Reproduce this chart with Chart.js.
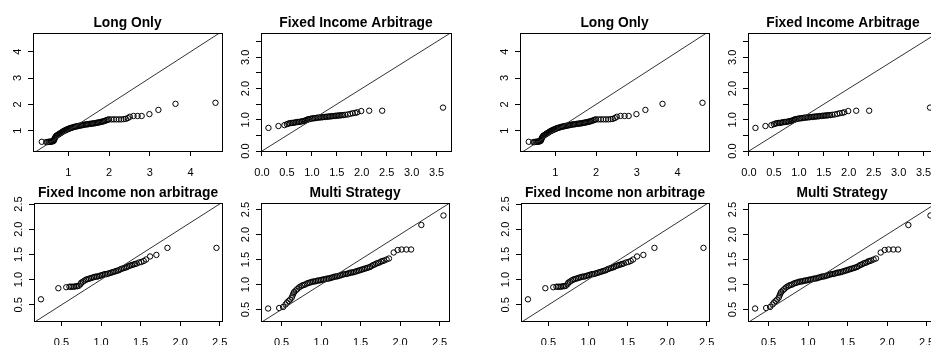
<!DOCTYPE html>
<html><head><meta charset="utf-8">
<script src="https://cdn.jsdelivr.net/npm/chart.js@4.4.1/dist/chart.umd.min.js"></script>
<style>
html,body{margin:0;padding:0;background:#fff;}
#wrap{position:relative;width:931px;height:345px;overflow:hidden;background:#fff;}
#wrap canvas{position:absolute;}
</style></head><body><div id="wrap"></div>
<script>
// ---------- data ----------
const panelTitles = ['Long Only', 'Fixed Income Arbitrage', 'Fixed Income non arbitrage', 'Multi Strategy'];

const longOnlyPts = [[0.35,0.58],[0.46,0.57],[0.49,0.57],[0.52,0.58],[0.54,0.58],[0.56,0.58],[0.58,0.59],[0.60,0.59],[0.62,0.60],[0.64,0.61],[0.65,0.64],[0.66,0.68],[0.67,0.72],[0.68,0.75],[0.70,0.79],[0.71,0.81],[0.73,0.83],[0.75,0.85],[0.77,0.87],[0.79,0.89],[0.81,0.91],[0.83,0.93],[0.85,0.95],[0.87,0.97],[0.89,0.99],[0.91,1.00],[0.93,1.02],[0.95,1.03],[0.97,1.05],[0.99,1.06],[1.01,1.07],[1.03,1.09],[1.05,1.10],[1.07,1.11],[1.10,1.12],[1.13,1.14],[1.16,1.15],[1.19,1.16],[1.22,1.17],[1.25,1.18],[1.28,1.19],[1.31,1.20],[1.34,1.21],[1.37,1.22],[1.40,1.23],[1.43,1.24],[1.46,1.24],[1.49,1.25],[1.52,1.26],[1.55,1.26],[1.58,1.27],[1.61,1.28],[1.64,1.28],[1.67,1.29],[1.70,1.30],[1.73,1.31],[1.76,1.32],[1.79,1.33],[1.82,1.34],[1.85,1.35],[1.88,1.37],[1.91,1.38],[1.94,1.40],[1.97,1.42],[2.00,1.43],[2.06,1.43],[2.12,1.43],[2.18,1.43],[2.24,1.43],[2.30,1.43],[2.36,1.44],[2.41,1.45],[2.46,1.48],[2.51,1.53],[2.60,1.56],[2.70,1.56],[2.80,1.56],[2.99,1.63],[3.21,1.79],[3.63,2.02],[4.61,2.06]];

const fixedIncomeArbPts = [[0.13,0.74],[0.33,0.80],[0.45,0.83],[0.50,0.86],[0.53,0.88],[0.56,0.89],[0.59,0.90],[0.62,0.90],[0.65,0.91],[0.68,0.92],[0.71,0.93],[0.74,0.93],[0.77,0.94],[0.80,0.95],[0.83,0.96],[0.86,0.97],[0.88,0.98],[0.90,1.00],[0.92,1.01],[0.94,1.02],[0.97,1.03],[1.00,1.04],[1.03,1.05],[1.06,1.05],[1.09,1.06],[1.12,1.07],[1.15,1.07],[1.18,1.08],[1.21,1.08],[1.24,1.09],[1.27,1.09],[1.30,1.10],[1.33,1.10],[1.36,1.11],[1.39,1.11],[1.42,1.12],[1.45,1.12],[1.48,1.13],[1.51,1.13],[1.54,1.14],[1.57,1.14],[1.60,1.15],[1.63,1.15],[1.67,1.16],[1.72,1.17],[1.77,1.19],[1.82,1.21],[1.87,1.22],[1.91,1.24],[1.99,1.28],[2.15,1.29],[2.41,1.29],[3.63,1.39]];

const fixedIncomeNonArbPts = [[0.24,0.61],[0.46,0.83],[0.56,0.85],[0.60,0.86],[0.62,0.86],[0.64,0.86],[0.66,0.86],[0.68,0.87],[0.70,0.87],[0.72,0.88],[0.74,0.91],[0.75,0.94],[0.77,0.96],[0.79,0.98],[0.81,1.00],[0.83,1.01],[0.85,1.02],[0.87,1.03],[0.89,1.04],[0.91,1.05],[0.93,1.06],[0.95,1.06],[0.97,1.07],[0.99,1.08],[1.01,1.09],[1.03,1.10],[1.05,1.11],[1.07,1.11],[1.09,1.12],[1.11,1.13],[1.13,1.14],[1.15,1.15],[1.17,1.16],[1.19,1.17],[1.21,1.18],[1.23,1.19],[1.25,1.21],[1.27,1.22],[1.29,1.23],[1.31,1.24],[1.33,1.25],[1.35,1.27],[1.37,1.28],[1.39,1.29],[1.41,1.30],[1.43,1.31],[1.45,1.32],[1.48,1.34],[1.51,1.35],[1.54,1.37],[1.57,1.40],[1.62,1.46],[1.70,1.49],[1.84,1.63],[2.46,1.63]];

const multiStrategyPts = [[0.33,0.52],[0.47,0.53],[0.52,0.55],[0.55,0.60],[0.57,0.64],[0.59,0.67],[0.61,0.70],[0.63,0.74],[0.64,0.78],[0.65,0.82],[0.66,0.85],[0.68,0.88],[0.70,0.91],[0.72,0.94],[0.74,0.96],[0.76,0.98],[0.78,0.99],[0.80,1.00],[0.82,1.02],[0.84,1.03],[0.86,1.04],[0.88,1.05],[0.90,1.06],[0.92,1.06],[0.94,1.07],[0.96,1.08],[0.98,1.08],[1.00,1.09],[1.02,1.10],[1.04,1.10],[1.06,1.11],[1.08,1.12],[1.10,1.12],[1.12,1.13],[1.14,1.14],[1.16,1.15],[1.18,1.16],[1.20,1.16],[1.22,1.17],[1.24,1.18],[1.26,1.19],[1.28,1.20],[1.30,1.21],[1.32,1.21],[1.34,1.22],[1.36,1.23],[1.38,1.24],[1.40,1.24],[1.42,1.25],[1.44,1.26],[1.46,1.27],[1.48,1.28],[1.50,1.29],[1.52,1.30],[1.54,1.31],[1.56,1.32],[1.58,1.33],[1.60,1.34],[1.62,1.35],[1.64,1.37],[1.66,1.39],[1.68,1.40],[1.70,1.42],[1.72,1.43],[1.74,1.44],[1.76,1.46],[1.78,1.47],[1.80,1.48],[1.83,1.50],[1.86,1.52],[1.92,1.64],[1.97,1.69],[2.02,1.70],[2.08,1.70],[2.14,1.70],[2.27,2.19],[2.55,2.38]];

// axis limits [xmin, xmax, ymin, ymax]
const longOnlyLimits = [0.135, 4.77, 0.23, 4.71];
const fixedIncomeArbLimits = [-0.02, 3.79, 0, 3.78];
const fixedIncomeNonArbLimits = [0.152, 2.53, 0.18, 2.52];
const multiStrategyLimits = [0.24, 2.62, 0.27, 2.63];

// tick values and labels
const longOnlyTicks = [1, 2, 3, 4];
const longOnlyTickLabels = ['1', '2', '3', '4'];
const fiaXTicks = [0, 0.5, 1, 1.5, 2, 2.5, 3, 3.5];
const fiaXTickLabels = ['0.0', '0.5', '1.0', '1.5', '2.0', '2.5', '3.0', '3.5'];
const fiaYTicks = [0, 0.5, 1, 1.5, 2, 2.5, 3, 3.5];
const fiaYTickLabels = ['0.0', '', '1.0', '', '2.0', '', '3.0', ''];
const halfTicks = [0.5, 1, 1.5, 2, 2.5];
const halfTickLabels = ['0.5', '1.0', '1.5', '2.0', '2.5'];

// ---------- layout / style ----------
const YW = 33, TH = 23, XH = 30, RP = 20;
const FONT = "'Liberation Sans', Arial, Helvetica, sans-serif";
const panelBoxes = [[33, 33, 222, 151], [261, 33, 451, 151], [34, 203, 222, 321], [261, 203, 449, 321]];
const copyOffsets = [0, 487];
const yLabelCenter = 15;

const panels = [
  {title: panelTitles[0], pts: longOnlyPts, lim: longOnlyLimits, xt: longOnlyTicks, xl: longOnlyTickLabels, yt: longOnlyTicks, yl: longOnlyTickLabels, widest: 6.1},
  {title: panelTitles[1], pts: fixedIncomeArbPts, lim: fixedIncomeArbLimits, xt: fiaXTicks, xl: fiaXTickLabels, yt: fiaYTicks, yl: fiaYTickLabels, widest: 15.3},
  {title: panelTitles[2], pts: fixedIncomeNonArbPts, lim: fixedIncomeNonArbLimits, xt: halfTicks, xl: halfTickLabels, yt: halfTicks, yl: halfTickLabels, widest: 15.3},
  {title: panelTitles[3], pts: multiStrategyPts, lim: multiStrategyLimits, xt: halfTicks, xl: halfTickLabels, yt: halfTicks, yl: halfTickLabels, widest: 15.3}
];

const boxPlugin = {
  id: 'plotBox',
  afterDraw(chart) {
    const {ctx, chartArea: a} = chart;
    ctx.save();
    ctx.strokeStyle = '#000';
    ctx.lineWidth = 1;
    ctx.strokeRect(Math.round(a.left) + 0.5, Math.round(a.top) + 0.5, Math.round(a.right - a.left), Math.round(a.bottom - a.top));
    ctx.restore();
  }
};

const wrap = document.getElementById('wrap');

function makePanel(p, box, dx) {
  const [L, T, R, B] = box;
  const W = YW + (R - L) + RP, H = TH + (B - T) + XH;
  const c = document.createElement('canvas');
  c.width = W; c.height = H;
  c.style.width = W + 'px'; c.style.height = H + 'px';
  c.style.left = (L + dx - YW) + 'px';
  c.style.top = (T - TH) + 'px';
  wrap.appendChild(c);
  const lo = Math.min(p.lim[0], p.lim[2]), hi = Math.max(p.lim[1], p.lim[3]);
  const tickFont = {family: FONT, size: 11};
  const gridOpts = {display: true, drawOnChartArea: false, drawTicks: true, tickLength: 5, tickColor: '#000', tickWidth: 1};
  new Chart(c, {
    type: 'scatter',
    data: {
      datasets: [
        {type: 'line', data: [{x: lo, y: lo}, {x: hi, y: hi}], borderColor: '#333', borderWidth: 1, pointRadius: 0, fill: false, tension: 0, clip: 0},
        {data: p.pts.map(q => ({x: q[0], y: q[1]})), pointStyle: 'circle', pointRadius: 2.7, pointBorderWidth: 1, borderColor: '#000', pointBorderColor: '#000', backgroundColor: 'rgba(0,0,0,0)', pointBackgroundColor: 'rgba(0,0,0,0)', showLine: false}
      ]
    },
    options: {
      responsive: false, animation: false, devicePixelRatio: 1,
      events: [],
      layout: {padding: {left: 0, top: 0, right: RP, bottom: 0}},
      plugins: {
        legend: {display: false}, tooltip: {enabled: false},
        title: {display: true, fullSize: false, text: p.title, color: '#000', font: {family: FONT, size: 13.8, weight: 'bold', lineHeight: '16px'}, padding: {top: 5, bottom: 2}}
      },
      scales: {
        x: {
          type: 'linear', position: 'bottom', min: p.lim[0], max: p.lim[1],
          afterBuildTicks: ax => { ax.ticks = p.xt.map(v => ({value: v})); },
          afterFit: ax => { ax.height = XH; },
          grid: gridOpts, border: {display: false},
          ticks: {autoSkip: false, minRotation: 0, maxRotation: 0, padding: 10, color: '#000', font: tickFont, callback: (v, i) => p.xl[i]}
        },
        y: {
          type: 'linear', position: 'left', min: p.lim[2], max: p.lim[3],
          afterBuildTicks: ax => { ax.ticks = p.yt.map(v => ({value: v})); },
          afterFit: ax => { ax.width = YW; },
          grid: gridOpts, border: {display: false},
          ticks: {autoSkip: false, minRotation: 90, maxRotation: 90, crossAlign: 'center', padding: yLabelCenter - 5 - p.widest / 2, color: '#000', font: tickFont, callback: (v, i) => p.yl[i]}
        }
      }
    },
    plugins: [boxPlugin]
  });
}

copyOffsets.forEach(dx => panels.forEach((p, i) => makePanel(p, panelBoxes[i], dx)));
</script>
</body></html>
